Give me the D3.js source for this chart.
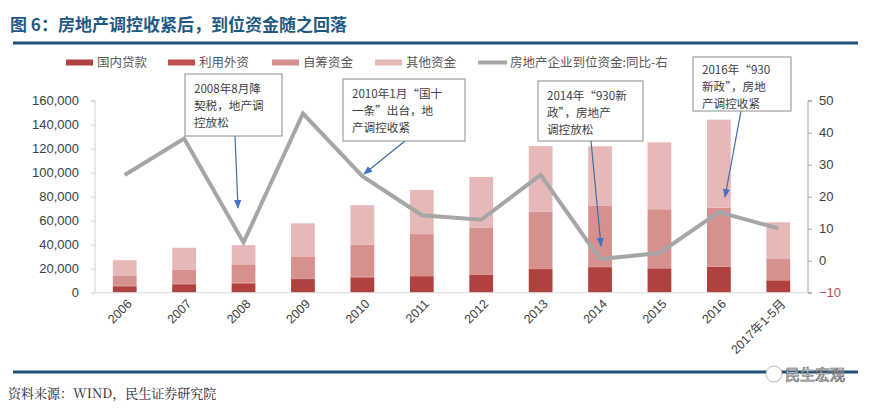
<!DOCTYPE html>
<html><head><meta charset="utf-8">
<script src="https://cdn.jsdelivr.net/npm/d3@7"></script>
<style>
body{margin:0;background:#fff;}
svg{display:block;}
</style></head>
<body><svg id="c" width="869" height="409"></svg>
<script>
const categories = ["2006","2007","2008","2009","2010","2011","2012","2013","2014","2015","2016","2017年1-5月"];
const domesticLoans = [5357,7016,7606,11365,12564,13057,14778,19673,21243,20214,21512,10300];
const foreignCapital = [400,641,728,479,791,785,402,534,639,297,140,100];
const selfRaised = [8597,11773,15312,17906,26637,35005,39082,47425,50420,49038,49133,17700];
const otherFunds = [12782,18048,15973,28049,32952,36842,42276,54491,49690,55655,73428,30600];
const yoyGrowth = [26.8,38.2,5.7,46.0,26.4,14.2,12.8,26.8,0.5,2.4,15.2,10.1];
const leftTicks = [0,20000,40000,60000,80000,100000,120000,140000,160000];
const rightTicks = [-10,0,10,20,30,40,50];
const seriesNames = ["国内贷款","利用外资","自筹资金","其他资金"];
const lineName = "房地产企业到位资金:同比-右";
const annotations = [
  {lines:["2008年8月降","契税，地产调","控放松"], idx:2},
  {lines:["2010年1月“国十","一条”出台，地","产调控收紧"], idx:4},
  {lines:["2014年“930新","政”，房地产","调控放松"], idx:8},
  {lines:["2016年“930","新政”，房地","产调控收紧"], idx:10}
];

(function(){
const colors = ["#b0413f","#c0504d","#d6918f","#e6b9b8"];
const svg = d3.select("#c");
const font = "'Noto Sans CJK SC','Liberation Sans',sans-serif";
const serif = "'Noto Serif CJK SC','Noto Sans CJK SC',serif";

svg.append("text").attr("x",10).attr("y",31).text("图 6：房地产调控收紧后，到位资金随之回落")
  .attr("font-family",font).attr("font-weight","bold").attr("font-size",17).attr("fill","#1f5a85");
svg.append("rect").attr("x",13).attr("y",41.5).attr("width",845).attr("height",3).attr("fill","#1f4e79");
svg.append("rect").attr("x",13).attr("y",370.5).attr("width",845).attr("height",3).attr("fill","#1f4e79");
svg.append("text").attr("x",8).attr("y",398).text("资料来源：WIND，民生证券研究院")
  .attr("font-family",serif).attr("font-size",13).attr("fill","#222");

const pl=95, pr=808, pt=100.7, pb=292.7;
const x = d3.scaleBand().domain(categories).range([pl,pr]).paddingInner(0.6).paddingOuter(0.3);
const yL = d3.scaleLinear().domain([0,160000]).range([pb,pt]);
const yR = d3.scaleLinear().domain([-10,50]).range([pb,pt]);

const rows = categories.map((c,i)=>({c, a:domesticLoans[i], b:foreignCapital[i], s:selfRaised[i], o:otherFunds[i]}));
const stack = d3.stack().keys(["a","b","s","o"])(rows);
const g = svg.append("g");
stack.forEach((layer,k)=>{
  g.selectAll(null).data(layer).join("rect")
    .attr("x",d=>x(d.data.c)).attr("width",x.bandwidth())
    .attr("y",d=>yL(d[1])).attr("height",d=>yL(d[0])-yL(d[1]))
    .attr("fill",colors[k]);
});

const axL = svg.append("g").attr("transform",`translate(${pl},0)`)
  .call(d3.axisLeft(yL).tickValues(leftTicks).tickFormat(d3.format(",")).tickSize(4).tickPadding(12));
axL.select(".domain").attr("stroke","#d0d0d0").attr("d",`M-4,${pt}H0V${pb}`);
axL.selectAll(".tick line").attr("stroke","#d0d0d0");
axL.selectAll("text").attr("font-family","'Liberation Sans',Arial,sans-serif").attr("font-size",13).attr("fill","#404040");

const axR = svg.append("g").attr("transform",`translate(${pr},0)`)
  .call(d3.axisRight(yR).tickValues(rightTicks).tickSize(4).tickPadding(7));
axR.select(".domain").attr("stroke","#a6a6a6").attr("d",`M4,${pt}H0V${pb}H4`);
axR.selectAll(".tick line").attr("stroke","#a6a6a6");
axR.selectAll("text").attr("font-family","'Liberation Sans',Arial,sans-serif").attr("font-size",13)
  .attr("fill",d=>d<0?"#c0504d":"#404040");

const axB = svg.append("g").attr("transform",`translate(0,${pb})`)
  .call(d3.axisBottom(x).tickSize(0).tickPadding(0));
axB.select(".domain").attr("stroke","#d9d9d9").attr("d",`M${pl},0H${pr}`);
axB.selectAll("text").attr("font-family","'Liberation Sans','Noto Sans CJK SC',sans-serif").attr("font-size",12.5).attr("fill","#404040")
  .attr("text-anchor","end").attr("dy",0)
  .attr("transform","translate(8,12) rotate(-45)");

const line = d3.line().x((d,i)=>x(categories[i])+x.bandwidth()/2).y(d=>yR(d));
svg.append("path").datum(yoyGrowth).attr("d",line).attr("fill","none")
  .attr("stroke","#a6a6a6").attr("stroke-width",4).attr("stroke-linejoin","miter");

const defs = svg.append("defs");
defs.append("marker").attr("id","ah").attr("viewBox","0 0 10 10").attr("refX",9).attr("refY",5)
  .attr("markerWidth",9).attr("markerHeight",9).attr("markerUnits","userSpaceOnUse").attr("orient","auto")
  .append("path").attr("d","M0,1L10,5L0,9z").attr("fill","#4472c4");
const boxes = [
  {x0:185,y0:74,w:97,h:62, ax:235, tx:238, ty:208, off:19},
  {x0:343,y0:79,w:122,h:62, ax:405, tx:364, ty:174, off:19},
  {x0:538,y0:81,w:105,h:60, ax:591, tx:601, ty:246, off:19},
  {x0:693,y0:57,w:98,h:54, ax:741, tx:725, ty:197, off:17}
];
annotations.forEach((a,i)=>{
  const b = boxes[i];
  svg.append("line").attr("x1",b.ax).attr("y1",b.y0+b.h).attr("x2",b.tx).attr("y2",b.ty)
    .attr("stroke","#3f6aa8").attr("stroke-width",1.2).attr("marker-end","url(#ah)");
  svg.append("rect").attr("x",b.x0).attr("y",b.y0).attr("width",b.w).attr("height",b.h)
    .attr("fill","#fff").attr("stroke","#8c8c8c").attr("stroke-width",1);
  a.lines.forEach((t,j)=>{
    svg.append("text").attr("x",b.x0+9).attr("y",b.y0+b.off+j*17).text(t)
      .attr("font-family",font).attr("font-size",11.6).attr("fill","#404040");
  });
});

const lg = svg.append("g");
const legX = [66,168,272,375];
seriesNames.forEach((n,i)=>{
  lg.append("rect").attr("x",legX[i]).attr("y",59.5).attr("width",27).attr("height",6).attr("fill",colors[i]);
  lg.append("text").attr("x",legX[i]+31).attr("y",67).text(n)
    .attr("font-family",font).attr("font-size",12.5).attr("fill","#595959");
});
lg.append("line").attr("x1",478).attr("x2",507).attr("y1",62.5).attr("y2",62.5).attr("stroke","#a6a6a6").attr("stroke-width",4);
lg.append("text").attr("x",510).attr("y",67).text(lineName)
  .attr("font-family",font).attr("font-size",12.5).attr("fill","#595959");

const wm = svg.append("g");
wm.append("circle").attr("cx",774).attr("cy",374).attr("r",8).attr("fill","#fff").attr("stroke","#bbb").attr("stroke-width",1);
wm.append("text").attr("x",785).attr("y",380).text("民生宏观").attr("font-family",font)
  .attr("font-size",15).attr("fill","#fff").attr("stroke","#666").attr("stroke-width",0.7);
})();
</script></body></html>
